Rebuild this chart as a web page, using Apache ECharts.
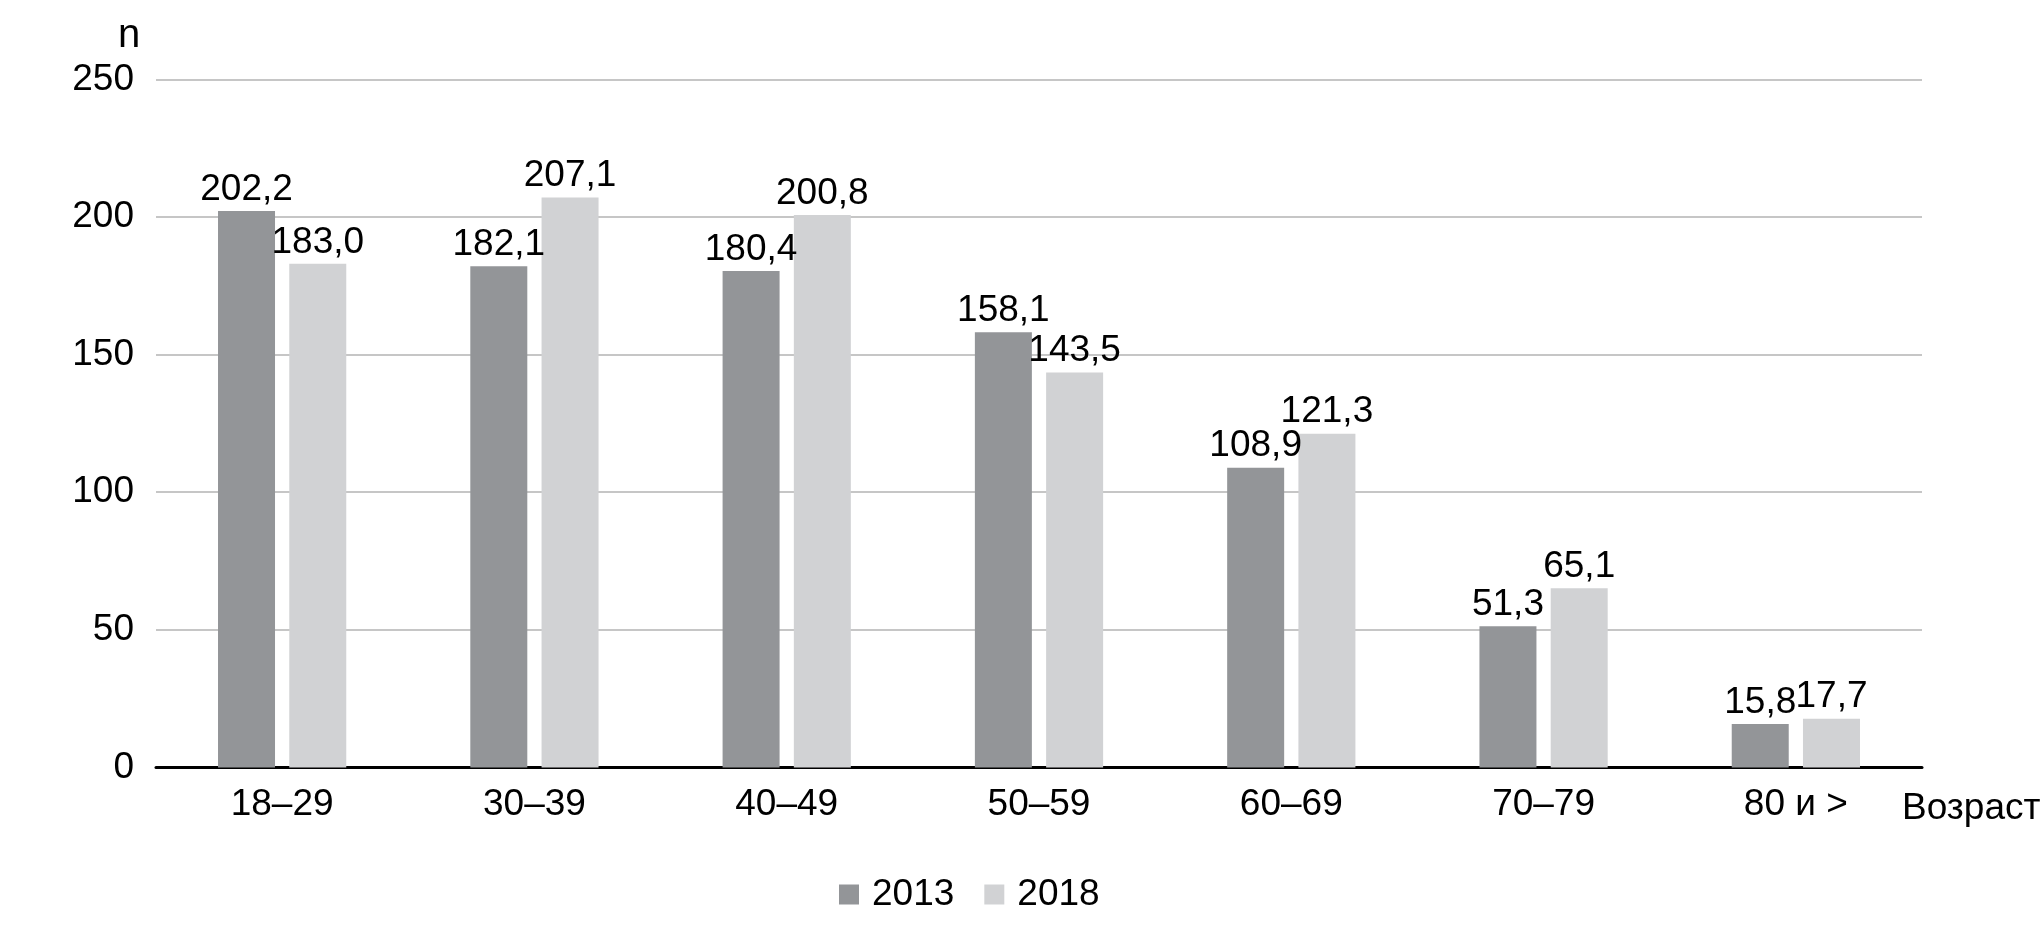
<!DOCTYPE html>
<html>
<head>
<meta charset="utf-8">
<script src="https://cdn.jsdelivr.net/npm/echarts@6/dist/echarts.min.js"></script>
<style>
html,body{margin:0;padding:0;background:#fff;}
#chart{width:2043px;height:925px;}
</style>
</head>
<body>
<div id="chart"></div>
<script>
const categories = ['18–29', '30–39', '40–49', '50–59', '60–69', '70–79', '80 и >'];
const series2013 = [202.2, 182.1, 180.4, 158.1, 108.9, 51.3, 15.8];
const series2018 = [183.0, 207.1, 200.8, 143.5, 121.3, 65.1, 17.7];
const seriesNames = ['2013', '2018'];
const yTicks = { min: 0, max: 250, interval: 50 };
const xAxisName = 'Возраст';
const yAxisName = 'n';

const FONT = '"Liberation Sans Narrow", "Liberation Sans", Arial, sans-serif';
const FS = 37;
const fmt = v => Number(v).toFixed(1).replace('.', ',');

const chart = echarts.init(document.getElementById('chart'));
const labelOpt = {
  show: true, position: 'top', distance: 3,
  color: '#000', fontFamily: FONT, fontSize: FS,
  formatter: p => fmt(p.value)
};
chart.setOption({
  backgroundColor: '#fff',
  animation: false,
  grid: { left: 156, right: 121, top: 79.5, bottom: 157.6, containLabel: false },
  legend: {
    left: 834, top: 871,
    itemWidth: 20, itemHeight: 20, itemGap: 30,
    icon: 'rect',
    textStyle: { fontFamily: FONT, fontSize: FS, color: '#000', padding: [0, 0, 0, 8] },
    data: seriesNames
  },
  graphic: [
    { type: 'text', x: 1902, y: 790, style: { text: xAxisName, fill: '#000', font: FS + 'px ' + FONT } },
    { type: 'text', x: 118, y: 16, style: { text: yAxisName, fill: '#000', font: '40px ' + FONT } }
  ],
  xAxis: {
    type: 'category',
    data: categories,
    axisTick: { show: false },
    axisLine: { show: true, lineStyle: { color: '#000', width: 3 } },
    axisLabel: { color: '#000', fontFamily: FONT, fontSize: FS, margin: 19 }
  },
  yAxis: {
    type: 'value',
    min: yTicks.min, max: yTicks.max, interval: yTicks.interval,
    axisLine: { show: false },
    axisTick: { show: false },
    axisLabel: { color: '#000', fontFamily: FONT, fontSize: FS, margin: 22 },
    splitLine: { show: true, lineStyle: { color: '#b3b3b3', width: 1.5 } }
  },
  series: [
    { name: seriesNames[0], type: 'bar', data: series2013, barWidth: 57, barGap: '25%',
      itemStyle: { color: '#939598' }, label: labelOpt },
    { name: seriesNames[1], type: 'bar', data: series2018, barWidth: 57, barGap: '25%',
      itemStyle: { color: '#d1d2d4' }, label: labelOpt }
  ]
});
</script>
</body>
</html>
